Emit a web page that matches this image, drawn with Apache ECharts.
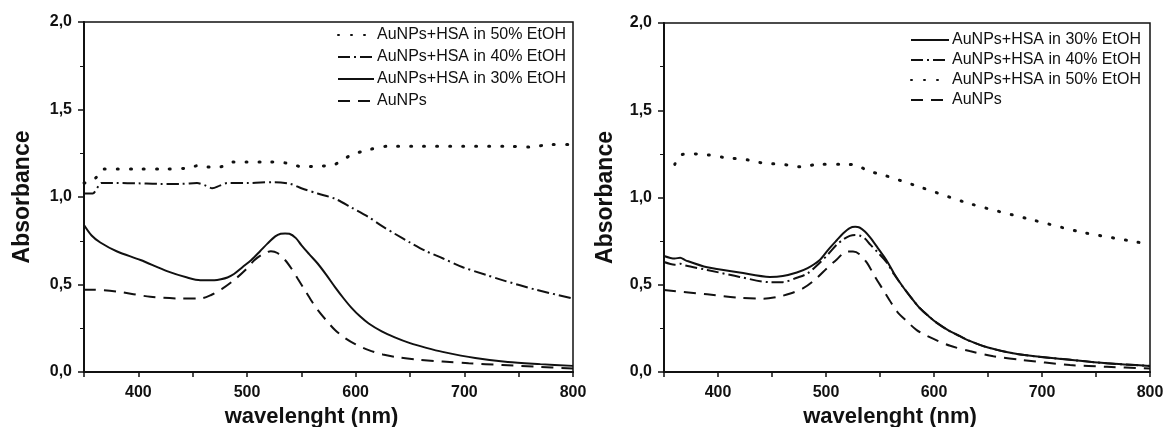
<!DOCTYPE html>
<html>
<head>
<meta charset="utf-8">
<script src="https://cdn.jsdelivr.net/npm/echarts@6/dist/echarts.min.js"></script>
<style>
  html, body { margin: 0; padding: 0; background: #fff; }
  #chart { width: 1166px; height: 427px; }
</style>
</head>
<body>
<div id="chart"></div>
<script>
// left panel
var wlL50 = [350, 355, 361, 368, 380, 400, 420, 445, 456, 467, 478, 488, 500, 520, 535, 545, 552, 560, 580, 596, 612, 630, 660, 700, 740, 760, 780, 800];
var absL50 = [1.08, 1.085, 1.11, 1.16, 1.16, 1.16, 1.16, 1.165, 1.18, 1.17, 1.175, 1.20, 1.20, 1.20, 1.195, 1.18, 1.17, 1.175, 1.185, 1.24, 1.27, 1.29, 1.29, 1.29, 1.29, 1.285, 1.30, 1.30];
var wlL40 = [350, 358, 362, 366, 380, 400, 420, 440, 454, 462, 468, 475, 482, 500, 525, 540, 550, 565, 581, 596, 612, 624, 636, 650, 665, 680, 698, 720, 735, 766, 800];
var absL40 = [1.02, 1.02, 1.05, 1.08, 1.08, 1.078, 1.075, 1.075, 1.08, 1.065, 1.05, 1.065, 1.08, 1.08, 1.085, 1.075, 1.05, 1.02, 0.99, 0.94, 0.885, 0.835, 0.79, 0.74, 0.69, 0.65, 0.60, 0.555, 0.525, 0.47, 0.42];
var wlL30 = [350, 357, 365, 380, 402, 427, 445, 457, 470, 476, 482, 488, 496, 504, 512, 519, 526, 531, 535, 539, 545, 550, 557, 565, 573, 581, 589, 596, 604, 612, 624, 636, 650, 665, 680, 710, 740, 770, 800];
var absL30 = [0.84, 0.78, 0.74, 0.69, 0.64, 0.575, 0.54, 0.525, 0.525, 0.53, 0.54, 0.56, 0.60, 0.64, 0.69, 0.735, 0.775, 0.79, 0.792, 0.79, 0.765, 0.725, 0.675, 0.62, 0.555, 0.485, 0.42, 0.368, 0.318, 0.277, 0.232, 0.198, 0.165, 0.138, 0.115, 0.08, 0.057, 0.045, 0.035];
var wlLAu = [350, 358, 380, 411, 439, 457, 467, 477, 488, 498, 507, 515, 522, 528, 535, 541, 547, 553, 559, 565, 573, 581, 590, 600, 612, 625, 640, 658, 680, 704, 735, 766, 800];
var absLAu = [0.47, 0.47, 0.46, 0.43, 0.42, 0.42, 0.44, 0.475, 0.525, 0.58, 0.64, 0.675, 0.69, 0.68, 0.64, 0.59, 0.53, 0.47, 0.41, 0.355, 0.295, 0.24, 0.195, 0.158, 0.125, 0.1, 0.083, 0.07, 0.06, 0.05, 0.04, 0.03, 0.02];

// right panel
var wlR50 = [360, 366, 377, 390, 405, 428, 439, 467, 478, 492, 516, 529, 539, 550, 587, 633, 689, 738, 788, 800];
var absR50 = [1.19, 1.245, 1.25, 1.245, 1.23, 1.215, 1.20, 1.185, 1.175, 1.19, 1.19, 1.185, 1.15, 1.135, 1.06, 0.965, 0.875, 0.80, 0.745, 0.73];
var wlR = [350, 360, 365, 370, 390, 420, 448, 460, 473, 483, 494, 502, 510, 516, 522, 527, 531, 536, 541, 548, 556, 563, 571, 579, 587, 595, 603, 613, 624, 633, 650, 680, 726, 760, 800];
var absR30 = [0.665, 0.65, 0.655, 0.64, 0.60, 0.57, 0.545, 0.55, 0.57, 0.595, 0.64, 0.70, 0.755, 0.795, 0.825, 0.832, 0.828, 0.805, 0.77, 0.71, 0.64, 0.565, 0.49, 0.425, 0.365, 0.32, 0.28, 0.24, 0.205, 0.178, 0.14, 0.10, 0.07, 0.05, 0.035];
var absR40 = [0.63, 0.615, 0.62, 0.61, 0.585, 0.545, 0.515, 0.515, 0.54, 0.565, 0.625, 0.675, 0.73, 0.76, 0.78, 0.785, 0.782, 0.765, 0.73, 0.685, 0.63, 0.56, 0.49, 0.425, 0.365, 0.32, 0.28, 0.24, 0.205, 0.178, 0.14, 0.10, 0.07, 0.05, 0.035];
var wlRAu = [350, 390, 420, 442, 455, 467, 479, 490, 501, 510, 519, 525, 531, 538, 545, 553, 559, 566, 575, 584, 594, 603, 615, 633, 655, 680, 726, 760, 800];
var absRAu = [0.47, 0.445, 0.425, 0.42, 0.43, 0.45, 0.48, 0.53, 0.595, 0.645, 0.69, 0.69, 0.675, 0.625, 0.55, 0.47, 0.41, 0.345, 0.29, 0.24, 0.205, 0.18, 0.15, 0.12, 0.09, 0.07, 0.04, 0.03, 0.02];

var xTicks = [400, 500, 600, 700, 800];
var yTicks = [0, 0.5, 1.0, 1.5, 2.0];

var N50 = 'AuNPs+HSA in 50% EtOH', N40 = 'AuNPs+HSA in 40% EtOH', N30 = 'AuNPs+HSA in 30% EtOH', NAu = 'AuNPs';
var ink = '#111';
var font = 'Liberation Sans, Arial, sans-serif';

function pairs(xs, ys) {
    var out = [];
    for (var i = 0; i < xs.length; i++) out.push([xs[i], ys[i]]);
    return out;
}
var styles = {};
styles[N50] = {type: [1, 12], width: 3, cap: 'round'};
styles[N40] = {type: [12, 4, 2, 4], width: 2};
styles[N30] = {type: 'solid', width: 2};
styles[NAu] = {type: [12, 8], width: 2};

function line(name, idx, xs, ys) {
    var ls = styles[name];
    return {
        name: name, type: 'line', xAxisIndex: idx, yAxisIndex: idx,
        data: pairs(xs, ys), showSymbol: false, symbol: 'none', smooth: 0.3,
        lineStyle: {color: ink, width: ls.width, type: ls.type, cap: ls.cap || 'butt'},
        itemStyle: {color: ink}
    };
}
function xAxis(idx) {
    return {
        type: 'value', gridIndex: idx, min: 350, max: 800, interval: 50,
        name: 'wavelenght (nm)', nameLocation: 'middle', nameGap: 31,
        nameTextStyle: {fontFamily: font, fontWeight: 'bold', fontSize: 22, color: ink, padding: [0, 34, 0, 0]},
        axisLine: {lineStyle: {color: ink, width: 2}},
        axisTick: {inside: false, length: 5, lineStyle: {color: ink, width: 1.5}},
        axisLabel: {
            margin: 13, fontFamily: font, fontWeight: 'bold', fontSize: 16, color: ink,
            formatter: function (v) { return xTicks.indexOf(v) >= 0 ? String(v) : ''; }
        },
        splitLine: {show: false}
    };
}
function yAxis(idx, gap) {
    return {
        type: 'value', gridIndex: idx, min: 0, max: 2, interval: 0.5,
        name: 'Absorbance', nameLocation: 'middle', nameGap: gap,
        nameTextStyle: {fontFamily: font, fontWeight: 'bold', fontSize: 23, color: ink},
        axisLine: {show: true, lineStyle: {color: ink, width: 2}},
        axisTick: {show: true, inside: false, length: 6, lineStyle: {color: ink, width: 1.5}},
        minorTick: {show: true, splitNumber: 2, length: 4, lineStyle: {color: ink, width: 1}},
        axisLabel: {
            margin: 12, fontFamily: font, fontWeight: 'bold', fontSize: 16, color: ink,
            formatter: function (v) { return yTicks.indexOf(v) >= 0 ? v.toFixed(1).replace('.', ',') : ''; }
        },
        splitLine: {show: false}
    };
}
function legend(left, top, gap, w, names) {
    return {
        orient: 'vertical', left: left, top: top, itemGap: gap, itemWidth: w, itemHeight: 16,
        selectedMode: false, data: names,
        itemStyle: {opacity: 0, borderWidth: 0},
        textStyle: {fontFamily: font, fontSize: 16, lineHeight: 16, color: ink, padding: [0, 0, 0, -2]}
    };
}

var chart = echarts.init(document.getElementById('chart'));
chart.setOption({
    animation: false,
    backgroundColor: '#fff',
    grid: [
        {left: 84, top: 22, width: 489, height: 350, outerBoundsMode: 'none', show: true, borderColor: ink, borderWidth: 1.5},
        {left: 664, top: 23, width: 486, height: 349, outerBoundsMode: 'none', show: true, borderColor: ink, borderWidth: 1.5}
    ],
    legend: [
        legend(332, 22, 6, 36, [N50, N40, N30, NAu]),
        legend(905, 27, 4, 38, [N30, N40, N50, NAu])
    ],
    xAxis: [xAxis(0), xAxis(1)],
    yAxis: [yAxis(0, 50), yAxis(1, 47)],
    series: [
        line(N50, 0, wlL50, absL50),
        line(N40, 0, wlL40, absL40),
        line(N30, 0, wlL30, absL30),
        line(NAu, 0, wlLAu, absLAu),
        line(N30, 1, wlR, absR30),
        line(N40, 1, wlR, absR40),
        line(N50, 1, wlR50, absR50),
        line(NAu, 1, wlRAu, absRAu)
    ]
});
</script>
</body>
</html>
